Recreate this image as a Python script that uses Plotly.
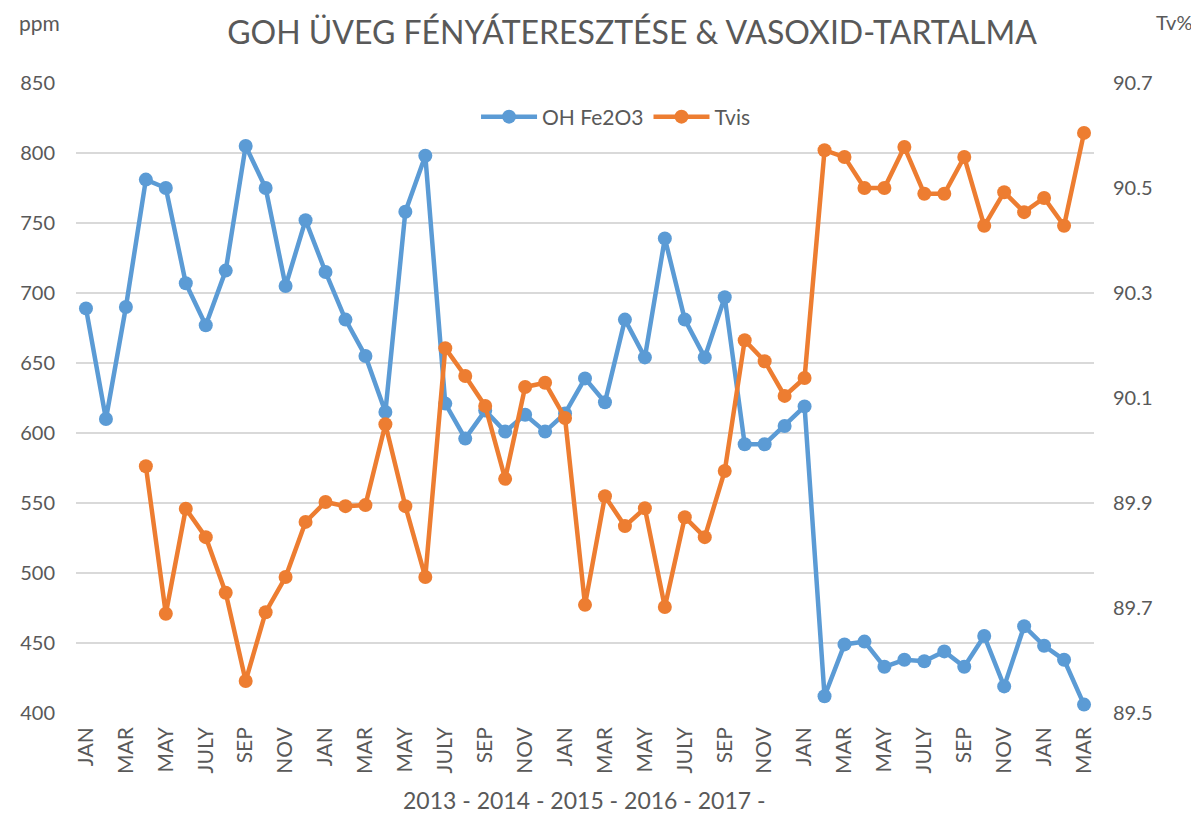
import plotly.graph_objects as go

# ---- data ----
month_ticks = ["JAN", "MAR", "MAY", "JULY", "SEP", "NOV"] * 4 + ["JAN", "MAR"]
oh_fe2o3 = [689, 610, 690, 781, 775, 707, 677, 716, 805, 775, 705, 752,
            715, 681, 655, 615, 758, 798, 621, 596, 616, 601, 613, 601,
            614, 639, 622, 681, 654, 739, 681, 654, 697, 592, 592, 605,
            619, 412, 449, 451, 433, 438, 437, 444, 433, 455, 419, 462,
            448, 438, 406]
tvis = [None, None, None, 89.97, 89.689, 89.889, 89.835, 89.729, 89.561, 89.692, 89.759, 89.864,
        89.902, 89.894, 89.896, 90.05, 89.894, 89.759, 90.195, 90.142, 90.085, 89.946, 90.121, 90.129,
        90.062, 89.706, 89.913, 89.856, 89.89, 89.702, 89.873, 89.835, 89.961, 90.21, 90.17, 90.104,
        90.138, 90.572, 90.559, 90.5, 90.5, 90.578, 90.489, 90.489, 90.559, 90.428, 90.492, 90.454,
        90.481, 90.428, 90.605]
x_idx = list(range(len(oh_fe2o3)))
tick_pos = x_idx[::2]

title_text = "GOH ÜVEG FÉNYÁTERESZTÉSE & VASOXID-TARTALMA"
x_title = "2013 - 2014 - 2015 - 2016 - 2017 -"

BLUE = "#5B9BD5"
ORANGE = "#ED7D31"
TXT = "#595959"
FONT = "Lato"

W, H = 1191, 806  # page body has an 8px margin

fig = go.Figure()
fig.add_trace(go.Scatter(x=x_idx, y=oh_fe2o3, name="OH Fe2O3", mode="lines+markers",
                         line=dict(color=BLUE, width=4.5), marker=dict(color=BLUE, size=14)))
fig.add_trace(go.Scatter(x=x_idx, y=tvis, name="Tvis", mode="lines+markers", yaxis="y2",
                         line=dict(color=ORANGE, width=4.5), marker=dict(color=ORANGE, size=14)))

fig.update_layout(
    width=W, height=H,
    margin=dict(l=66, r=105, t=75, b=101),
    paper_bgcolor="white", plot_bgcolor="white",
    font=dict(family=FONT, color=TXT, size=20),
    title=dict(text=title_text, x=624 / W, xref="container", xanchor="center",
               y=1 - 25 / H, yref="container", yanchor="middle",
               font=dict(size=32, color=TXT, family=FONT)),
    showlegend=True,
    legend=dict(orientation="h", x=0.53, xanchor="center", y=0.946, yanchor="middle",
                font=dict(size=21, color=TXT), bgcolor="rgba(0,0,0,0)", itemwidth=56),
    xaxis=dict(range=[-0.5, len(oh_fe2o3) - 0.5], tickmode="array", tickvals=tick_pos,
               ticktext=month_ticks, tickangle=-90, showgrid=False, zeroline=False,
               showline=False, ticks="", ticklabelstandoff=9,
               tickfont=dict(size=21, color=TXT)),
    yaxis=dict(range=[400, 850], dtick=50, showgrid=True, gridcolor="#D9D9D9", gridwidth=1.5,
               zeroline=False, showline=False, ticks="", ticklabelstandoff=20,
               tickfont=dict(size=20, color=TXT)),
    yaxis2=dict(range=[89.5, 90.7], dtick=0.2, tick0=89.5, tickformat=".1f", overlaying="y",
                side="right", showgrid=False, zeroline=False, showline=False, ticks="",
                ticklabelstandoff=18, tickfont=dict(size=20, color=TXT)),
    annotations=[
        dict(text="ppm", xref="paper", yref="paper", x=-0.0363, y=(713 - 23) / 630,
             xanchor="center", yanchor="middle", showarrow=False, borderpad=0,
             font=dict(size=21, color=TXT)),
        dict(text="Tv%", xref="paper", yref="paper", x=(1174 - 74) / 1020, y=(713 - 22) / 630,
             xanchor="center", yanchor="middle", showarrow=False, borderpad=0,
             font=dict(size=20, color=TXT)),
        dict(text=x_title, xref="paper", yref="paper", x=(583 - 74) / 1020, y=(713 - 800) / 630,
             xanchor="center", yanchor="middle", showarrow=False, font=dict(size=23, color=TXT)),
    ],
)

fig.write_html("out.html")
